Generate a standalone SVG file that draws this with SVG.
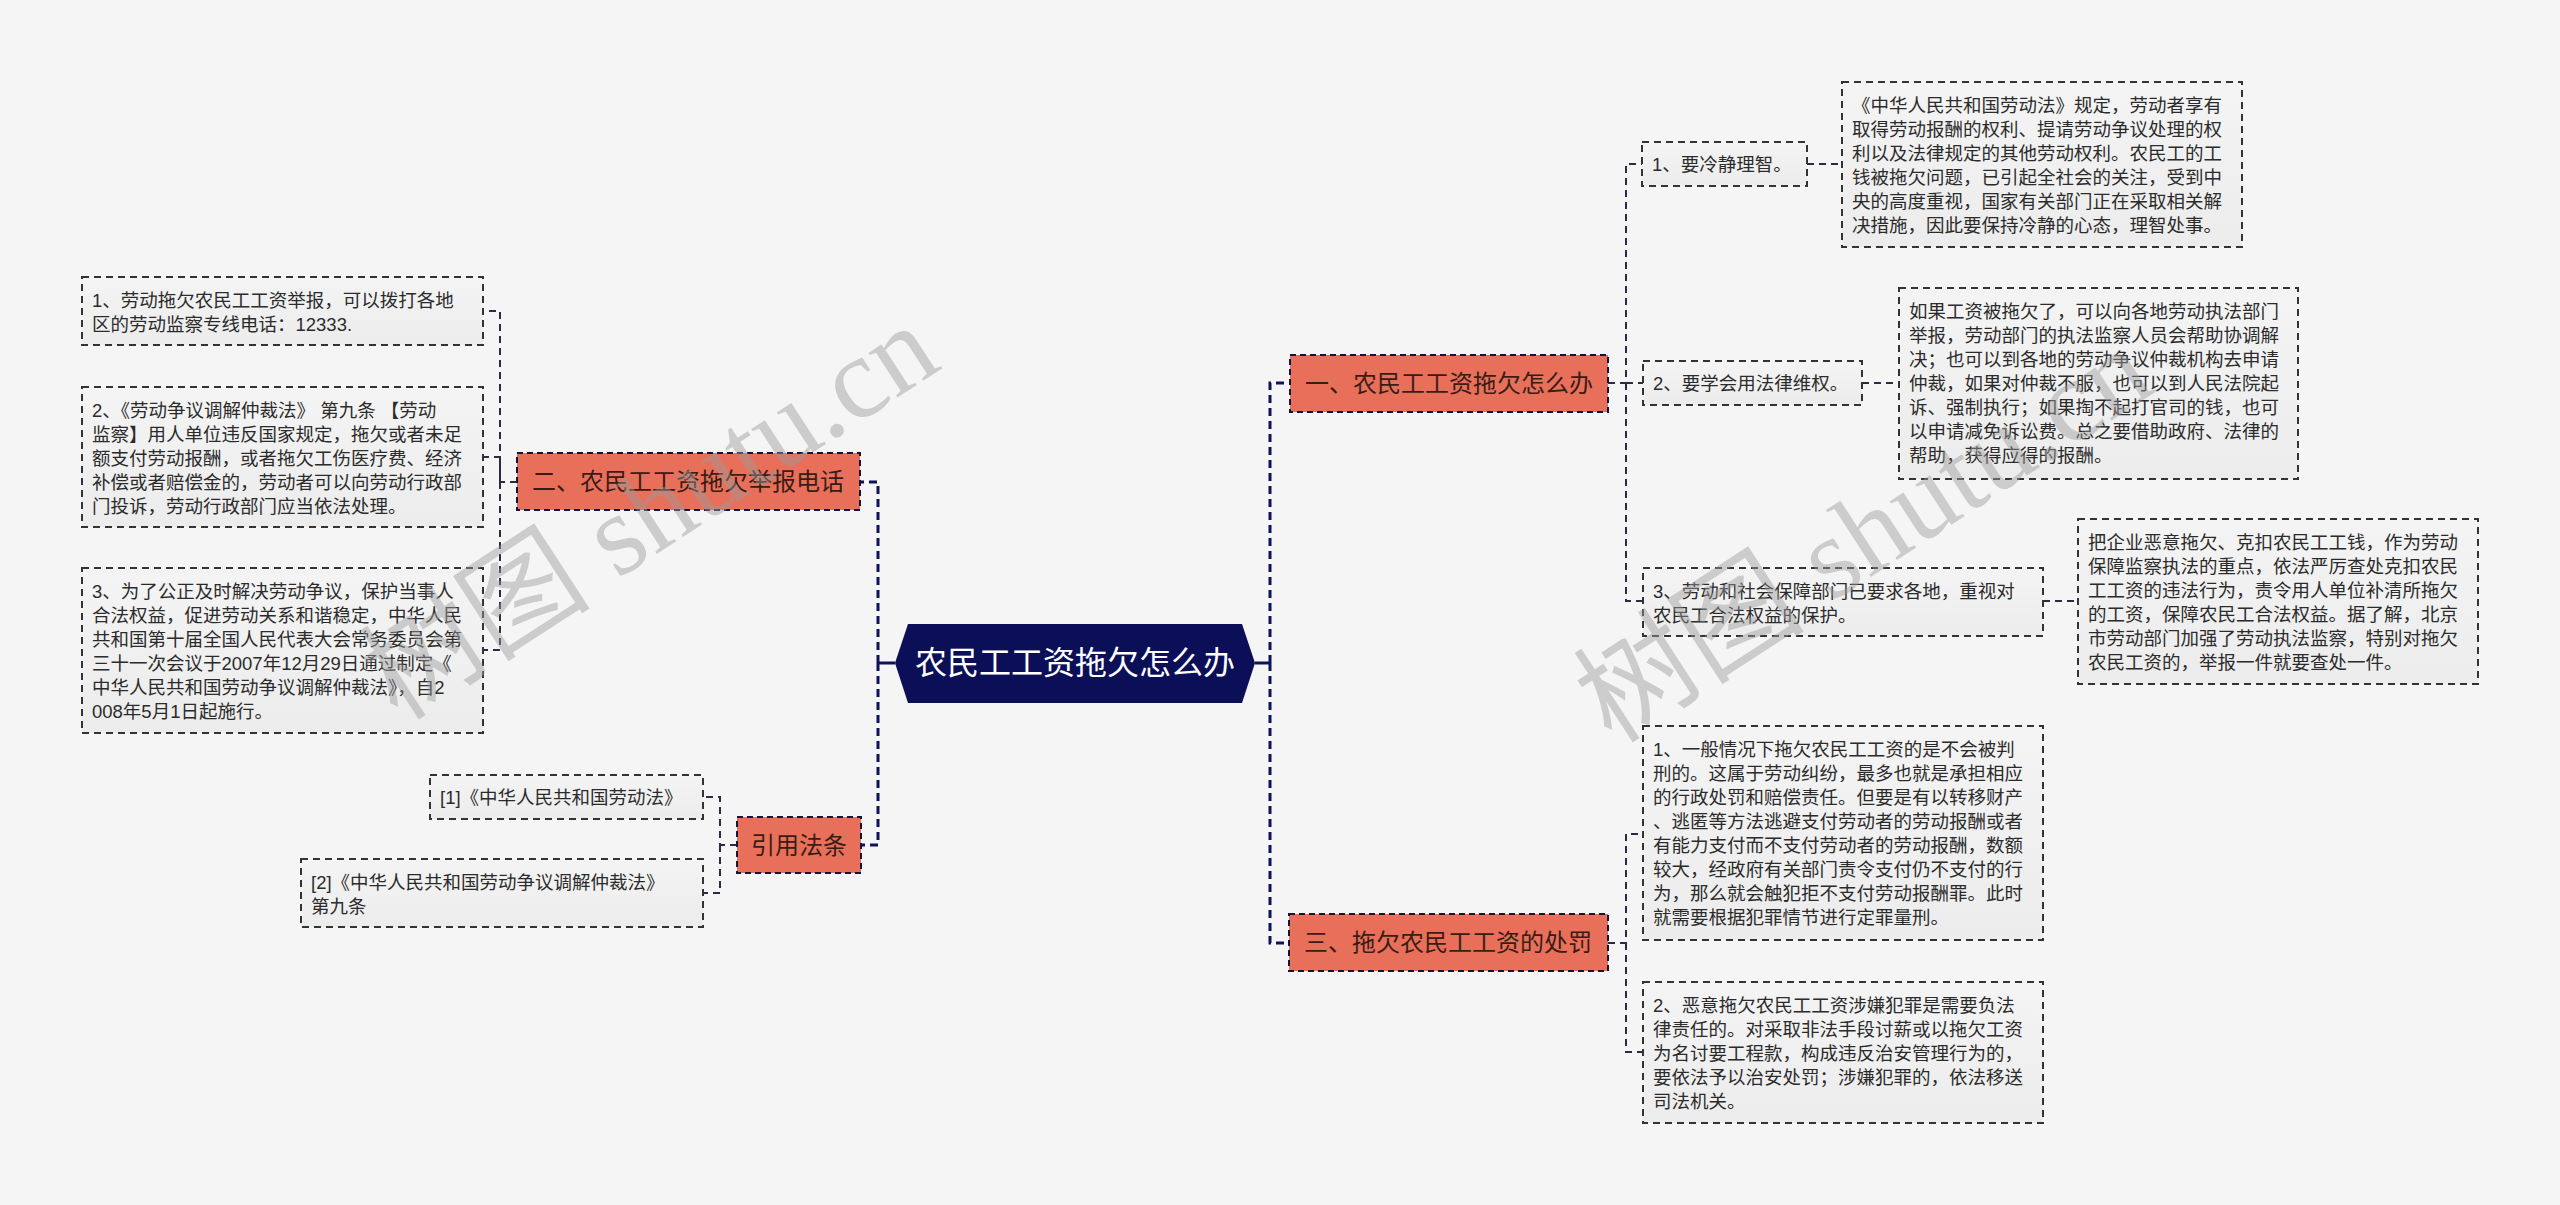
<svg xmlns="http://www.w3.org/2000/svg" width="2560" height="1205" viewBox="0 0 2560 1205">
<defs>
<linearGradient id="boxg" x1="0" y1="0" x2="0" y2="1">
<stop offset="0" stop-color="#f4f4f4"/>
<stop offset="1" stop-color="#ececec"/>
</linearGradient>
<style>
text{font-family:"Liberation Sans","Noto Sans CJK SC",sans-serif;}
.bg{fill:#f5f5f5;}
.main{fill:none;stroke:#0d1259;stroke-width:3;stroke-dasharray:8 5;}
.stub{fill:none;stroke:#0d1259;stroke-width:3;}
.sub{fill:none;stroke:#2b2b45;stroke-width:2;stroke-dasharray:7 5;}
.branch rect{fill:#e8705a;stroke:#14143a;stroke-width:2;stroke-dasharray:6 4;}
.branch text{font-size:24px;fill:#3a1c16;text-anchor:middle;}
.leaf rect{fill:url(#boxg);stroke:#333333;stroke-width:2;stroke-dasharray:7 5;}
.leaf text{font-size:18.5px;fill:#2b2b2b;}
.wm{font-family:"Liberation Serif","Noto Sans CJK SC",serif;font-size:116px;fill:#9c9c9c;fill-opacity:0.45;}
</style>
</defs>
<rect class="bg" x="0" y="0" width="2560" height="1205"/>

<g id="connectors">
<path class="stub" d="M895,663 H878"/>
<path class="main" d="M878,663 V482 H860 M878,663 V845 H861"/>
<path class="stub" d="M1255,663 H1270"/>
<path class="main" d="M1270,663 V383 H1290 M1270,663 V943 H1289"/>
<path class="sub" d="M517,482 H500 V311 H483 M500,482 V457 H483 M500,482 V650 H483"/>
<path class="sub" d="M737,845 H720 V797 H703 M720,845 V893 H703"/>
<path class="sub" d="M1608,383 H1626 V164 H1642 M1626,383 H1643 M1626,383 V601 H1643"/>
<path class="sub" d="M1807,164 H1842 M1862,383 H1899 M2043,601 H2078"/>
<path class="sub" d="M1608,943 H1626 V834 H1643 M1626,943 V1052 H1643"/>
</g>

<g id="root">
<polygon points="895,663 908,624 1242,624 1255,663 1242,703 908,703" fill="#0b0f58"/>
<text x="1075" y="674" font-size="32" fill="#ffffff" text-anchor="middle">农民工工资拖欠怎么办</text>
</g>

<g id="b1" class="branch">
<rect x="1290" y="355" width="318" height="57"/>
<text x="1449" y="392">一、农民工工资拖欠怎么办</text>
</g>
<g id="b3" class="branch">
<rect x="1289" y="914" width="319" height="57"/>
<text x="1448" y="951">三、拖欠农民工工资的处罚</text>
</g>
<g id="b2" class="branch">
<rect x="517" y="453" width="343" height="57"/>
<text x="688" y="490">二、农民工工资拖欠举报电话</text>
</g>
<g id="b4" class="branch">
<rect x="737" y="817" width="124" height="56"/>
<text x="799" y="854">引用法条</text>
</g>

<g id="l1" class="leaf">
<rect x="82" y="277" width="401" height="68"/>
<text x="92" y="307"><tspan x="92">1、劳动拖欠农民工工资举报，可以拨打各地</tspan><tspan x="92" dy="24">区的劳动监察专线电话：12333.</tspan></text>
</g>
<g id="l2" class="leaf">
<rect x="82" y="387" width="401" height="140"/>
<text x="92" y="417"><tspan x="92">2、《劳动争议调解仲裁法》 第九条 【劳动</tspan><tspan x="92" dy="24">监察】用人单位违反国家规定，拖欠或者未足</tspan><tspan x="92" dy="24">额支付劳动报酬，或者拖欠工伤医疗费、经济</tspan><tspan x="92" dy="24">补偿或者赔偿金的，劳动者可以向劳动行政部</tspan><tspan x="92" dy="24">门投诉，劳动行政部门应当依法处理。</tspan></text>
</g>
<g id="l3" class="leaf">
<rect x="82" y="568" width="401" height="165"/>
<text x="92" y="598"><tspan x="92">3、为了公正及时解决劳动争议，保护当事人</tspan><tspan x="92" dy="24">合法权益，促进劳动关系和谐稳定，中华人民</tspan><tspan x="92" dy="24">共和国第十届全国人民代表大会常务委员会第</tspan><tspan x="92" dy="24">三十一次会议于2007年12月29日通过制定《</tspan><tspan x="92" dy="24">中华人民共和国劳动争议调解仲裁法》，自2</tspan><tspan x="92" dy="24">008年5月1日起施行。</tspan></text>
</g>
<g id="r1" class="leaf">
<rect x="430" y="775" width="273" height="44"/>
<text x="440" y="804">[1]《中华人民共和国劳动法》</text>
</g>
<g id="r2" class="leaf">
<rect x="301" y="859" width="402" height="68"/>
<text x="311" y="889"><tspan x="311">[2]《中华人民共和国劳动争议调解仲裁法》</tspan><tspan x="311" dy="24">第九条</tspan></text>
</g>

<g id="a1" class="leaf">
<rect x="1642" y="142" width="165" height="44"/>
<text x="1652" y="171">1、要冷静理智。</text>
</g>
<g id="a1d" class="leaf">
<rect x="1842" y="82" width="400" height="165"/>
<text x="1852" y="112"><tspan x="1852">《中华人民共和国劳动法》规定，劳动者享有</tspan><tspan x="1852" dy="24">取得劳动报酬的权利、提请劳动争议处理的权</tspan><tspan x="1852" dy="24">利以及法律规定的其他劳动权利。农民工的工</tspan><tspan x="1852" dy="24">钱被拖欠问题，已引起全社会的关注，受到中</tspan><tspan x="1852" dy="24">央的高度重视，国家有关部门正在采取相关解</tspan><tspan x="1852" dy="24">决措施，因此要保持冷静的心态，理智处事。</tspan></text>
</g>
<g id="a2" class="leaf">
<rect x="1643" y="361" width="219" height="44"/>
<text x="1653" y="390">2、要学会用法律维权。</text>
</g>
<g id="a2d" class="leaf">
<rect x="1899" y="288" width="399" height="191"/>
<text x="1909" y="318"><tspan x="1909">如果工资被拖欠了，可以向各地劳动执法部门</tspan><tspan x="1909" dy="24">举报，劳动部门的执法监察人员会帮助协调解</tspan><tspan x="1909" dy="24">决；也可以到各地的劳动争议仲裁机构去申请</tspan><tspan x="1909" dy="24">仲裁，如果对仲裁不服，也可以到人民法院起</tspan><tspan x="1909" dy="24">诉、强制执行；如果掏不起打官司的钱，也可</tspan><tspan x="1909" dy="24">以申请减免诉讼费。总之要借助政府、法律的</tspan><tspan x="1909" dy="24">帮助，获得应得的报酬。</tspan></text>
</g>
<g id="a3" class="leaf">
<rect x="1643" y="568" width="400" height="68"/>
<text x="1653" y="598"><tspan x="1653">3、劳动和社会保障部门已要求各地，重视对</tspan><tspan x="1653" dy="24">农民工合法权益的保护。</tspan></text>
</g>
<g id="a3d" class="leaf">
<rect x="2078" y="519" width="400" height="165"/>
<text x="2088" y="549"><tspan x="2088">把企业恶意拖欠、克扣农民工工钱，作为劳动</tspan><tspan x="2088" dy="24">保障监察执法的重点，依法严厉查处克扣农民</tspan><tspan x="2088" dy="24">工工资的违法行为，责令用人单位补清所拖欠</tspan><tspan x="2088" dy="24">的工资，保障农民工合法权益。据了解，北京</tspan><tspan x="2088" dy="24">市劳动部门加强了劳动执法监察，特别对拖欠</tspan><tspan x="2088" dy="24">农民工资的，举报一件就要查处一件。</tspan></text>
</g>

<g id="c1" class="leaf">
<rect x="1643" y="726" width="400" height="214"/>
<text x="1653" y="756"><tspan x="1653">1、一般情况下拖欠农民工工资的是不会被判</tspan><tspan x="1653" dy="24">刑的。这属于劳动纠纷，最多也就是承担相应</tspan><tspan x="1653" dy="24">的行政处罚和赔偿责任。但要是有以转移财产</tspan><tspan x="1653" dy="24">、逃匿等方法逃避支付劳动者的劳动报酬或者</tspan><tspan x="1653" dy="24">有能力支付而不支付劳动者的劳动报酬，数额</tspan><tspan x="1653" dy="24">较大，经政府有关部门责令支付仍不支付的行</tspan><tspan x="1653" dy="24">为，那么就会触犯拒不支付劳动报酬罪。此时</tspan><tspan x="1653" dy="24">就需要根据犯罪情节进行定罪量刑。</tspan></text>
</g>
<g id="c2" class="leaf">
<rect x="1643" y="982" width="400" height="141"/>
<text x="1653" y="1012"><tspan x="1653">2、恶意拖欠农民工工资涉嫌犯罪是需要负法</tspan><tspan x="1653" dy="24">律责任的。对采取非法手段讨薪或以拖欠工资</tspan><tspan x="1653" dy="24">为名讨要工程款，构成违反治安管理行为的，</tspan><tspan x="1653" dy="24">要依法予以治安处罚；涉嫌犯罪的，依法移送</tspan><tspan x="1653" dy="24">司法机关。</tspan></text>
</g>

<g id="watermarks">
<text class="wm" x="398" y="722" transform="rotate(-33 398 722)">树图 shutu.cn</text>
<text class="wm" x="1612" y="745" transform="rotate(-33 1612 745)">树图 shutu.cn</text>
</g>
</svg>
